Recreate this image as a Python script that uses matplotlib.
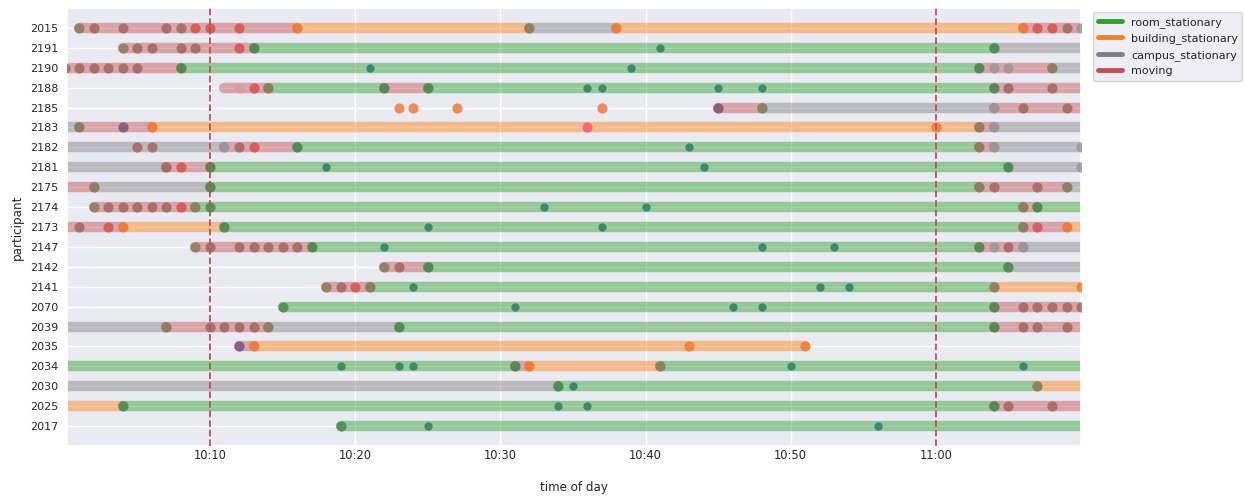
import matplotlib
matplotlib.use("Agg")
import matplotlib.pyplot as plt
from matplotlib.lines import Line2D
from matplotlib.ticker import FixedLocator, FuncFormatter
import seaborn as sns

sns.set_theme(style="darkgrid")
plt.rcParams['font.family'] = ['DejaVu Sans']

# ---------------- data ----------------
participants = ['2015', '2191', '2190', '2188', '2185', '2183', '2182', '2181',
                '2175', '2174', '2173', '2147', '2142', '2141', '2070', '2039',
                '2035', '2034', '2030', '2025', '2017']

states = ['room_stationary', 'building_stationary', 'campus_stationary', 'moving']
state_colors = ['#2ca02c', '#ff7f0e', '#7f7f7f', '#c44e52']

# (participant, start, end, state)  R=room, B=building, C=campus, M=moving
segments = [
    ('2015', '10:01', '10:16', 'M'), ('2015', '10:16', '10:32', 'B'), ('2015', '10:32', '10:38', 'C'),
    ('2015', '10:38', '11:06', 'B'), ('2015', '11:06', '11:10', 'M'),
    ('2191', '10:04', '10:13', 'M'), ('2191', '10:13', '11:04', 'R'), ('2191', '11:04', '11:10', 'C'),
    ('2190', '10:00', '10:08', 'M'), ('2190', '10:08', '11:03', 'R'), ('2190', '11:03', '11:08', 'M'),
    ('2190', '11:08', '11:10', 'C'),
    ('2188', '10:11', '10:14', 'M'), ('2188', '10:14', '10:22', 'R'), ('2188', '10:22', '10:25', 'M'),
    ('2188', '10:25', '11:04', 'R'), ('2188', '11:04', '11:10', 'M'),
    ('2185', '10:45', '10:48', 'M'), ('2185', '10:48', '11:04', 'C'), ('2185', '11:04', '11:10', 'M'),
    ('2183', '10:00', '10:01', 'C'), ('2183', '10:01', '10:06', 'M'), ('2183', '10:06', '11:03', 'B'),
    ('2183', '11:03', '11:04', 'M'), ('2183', '11:04', '11:10', 'C'),
    ('2182', '10:00', '10:11', 'C'), ('2182', '10:11', '10:16', 'M'), ('2182', '10:16', '11:03', 'R'),
    ('2182', '11:03', '11:04', 'M'), ('2182', '11:04', '11:10', 'C'),
    ('2181', '10:00', '10:07', 'C'), ('2181', '10:07', '10:10', 'M'), ('2181', '10:10', '11:05', 'R'),
    ('2181', '11:05', '11:10', 'C'),
    ('2175', '10:00', '10:02', 'M'), ('2175', '10:02', '10:10', 'C'), ('2175', '10:10', '11:03', 'R'),
    ('2175', '11:03', '11:09', 'M'), ('2175', '11:09', '11:10', 'C'),
    ('2174', '10:02', '10:09', 'M'), ('2174', '10:09', '11:06', 'R'), ('2174', '11:06', '11:07', 'M'),
    ('2174', '11:07', '11:10', 'R'),
    ('2173', '10:00', '10:04', 'M'), ('2173', '10:04', '10:11', 'B'), ('2173', '10:11', '11:06', 'R'),
    ('2173', '11:06', '11:09', 'M'), ('2173', '11:09', '11:10', 'B'),
    ('2147', '10:09', '10:17', 'M'), ('2147', '10:17', '11:03', 'R'), ('2147', '11:03', '11:06', 'M'),
    ('2147', '11:06', '11:10', 'C'),
    ('2142', '10:22', '10:25', 'M'), ('2142', '10:25', '11:05', 'R'), ('2142', '11:05', '11:10', 'C'),
    ('2141', '10:18', '10:21', 'M'), ('2141', '10:21', '11:04', 'R'), ('2141', '11:04', '11:10', 'B'),
    ('2070', '10:15', '11:04', 'R'), ('2070', '11:04', '11:10', 'M'),
    ('2039', '10:00', '10:07', 'C'), ('2039', '10:07', '10:14', 'M'), ('2039', '10:14', '10:23', 'C'),
    ('2039', '10:23', '11:04', 'R'), ('2039', '11:04', '11:10', 'M'),
    ('2035', '10:12', '10:13', 'M'), ('2035', '10:13', '10:51', 'B'),
    ('2034', '10:00', '10:31', 'R'), ('2034', '10:31', '10:32', 'M'), ('2034', '10:32', '10:41', 'B'),
    ('2034', '10:41', '11:10', 'R'),
    ('2030', '10:00', '10:34', 'C'), ('2030', '10:34', '11:07', 'R'), ('2030', '11:07', '11:10', 'B'),
    ('2025', '10:00', '10:04', 'B'), ('2025', '10:04', '11:04', 'R'), ('2025', '11:04', '11:10', 'M'),
    ('2017', '10:19', '11:10', 'R'),
]

# (participant, time, kind)
events = [
    ('2015', '10:01', 'o'), ('2015', '10:02', 'b'), ('2015', '10:04', 'b'), ('2015', '10:07', 'b'),
    ('2015', '10:08', 'b'), ('2015', '10:09', 'r'), ('2015', '10:10', 'r'), ('2015', '10:12', 'r'),
    ('2015', '10:16', 'y'), ('2015', '10:32', 'o'), ('2015', '10:38', 'y'), ('2015', '11:06', 'y'),
    ('2015', '11:07', 'r'), ('2015', '11:08', 'r'), ('2015', '11:09', 'b'), ('2015', '11:10', 'k'),
    ('2191', '10:04', 'o'), ('2191', '10:05', 'b'), ('2191', '10:06', 'b'), ('2191', '10:08', 'b'),
    ('2191', '10:09', 'b'), ('2191', '10:12', 'r'), ('2191', '10:13', 'g'), ('2191', '10:41', 't'),
    ('2191', '11:04', 'g'),
    ('2190', '10:00', 'b'), ('2190', '10:01', 'b'), ('2190', '10:02', 'b'), ('2190', '10:03', 'b'),
    ('2190', '10:04', 'b'), ('2190', '10:05', 'b'), ('2190', '10:08', 'g'), ('2190', '10:21', 't'),
    ('2190', '10:39', 't'), ('2190', '11:03', 'g'), ('2190', '11:04', 'k'), ('2190', '11:05', 'k'),
    ('2190', '11:08', 'o'),
    ('2188', '10:12', 'l'), ('2188', '10:13', 'r'), ('2188', '10:14', 'o'), ('2188', '10:22', 'g'),
    ('2188', '10:25', 'g'), ('2188', '10:36', 't'), ('2188', '10:37', 't'), ('2188', '10:45', 't'),
    ('2188', '10:48', 't'), ('2188', '11:04', 'g'), ('2188', '11:05', 'b'), ('2188', '11:08', 'b'),
    ('2185', '10:23', 'y'), ('2185', '10:24', 'y'), ('2185', '10:27', 'y'), ('2185', '10:37', 'y'),
    ('2185', '10:45', 'p'), ('2185', '10:48', 'o'), ('2185', '11:04', 'k'), ('2185', '11:06', 'b'),
    ('2185', '11:09', 'b'),
    ('2183', '10:01', 'o'), ('2183', '10:04', 'p'), ('2183', '10:06', 'y'), ('2183', '10:36', 'm'),
    ('2183', '11:00', 'y'), ('2183', '11:03', 'o'), ('2183', '11:04', 'k'),
    ('2182', '10:05', 'b'), ('2182', '10:06', 'b'), ('2182', '10:11', 'k'), ('2182', '10:12', 'b'),
    ('2182', '10:13', 'r'), ('2182', '10:16', 'g'), ('2182', '10:43', 't'), ('2182', '11:03', 'o'),
    ('2182', '11:04', 'k'), ('2182', '11:10', 'k'),
    ('2181', '10:07', 'b'), ('2181', '10:08', 'r'), ('2181', '10:10', 'g'), ('2181', '10:18', 't'),
    ('2181', '10:44', 't'), ('2181', '11:05', 'g'), ('2181', '11:10', 'k'),
    ('2175', '10:02', 'o'), ('2175', '10:10', 'g'), ('2175', '11:03', 'o'), ('2175', '11:04', 'b'),
    ('2175', '11:07', 'b'), ('2175', '11:09', 'o'),
    ('2174', '10:02', 'o'), ('2174', '10:03', 'b'), ('2174', '10:04', 'b'), ('2174', '10:05', 'b'),
    ('2174', '10:06', 'b'), ('2174', '10:07', 'b'), ('2174', '10:08', 'r'), ('2174', '10:09', 'o'),
    ('2174', '10:10', 'g'), ('2174', '10:33', 't'), ('2174', '10:40', 't'), ('2174', '11:06', 'o'),
    ('2174', '11:07', 'g'),
    ('2173', '10:01', 'b'), ('2173', '10:03', 'r'), ('2173', '10:04', 'y'), ('2173', '10:11', 'g'),
    ('2173', '10:25', 't'), ('2173', '10:37', 't'), ('2173', '11:06', 'o'), ('2173', '11:07', 'r'),
    ('2173', '11:09', 'y'),
    ('2147', '10:09', 'o'), ('2147', '10:10', 'b'), ('2147', '10:12', 'b'), ('2147', '10:13', 'b'),
    ('2147', '10:14', 'b'), ('2147', '10:15', 'b'), ('2147', '10:16', 'b'), ('2147', '10:17', 'g'),
    ('2147', '10:22', 't'), ('2147', '10:48', 't'), ('2147', '10:53', 't'), ('2147', '11:03', 'g'),
    ('2147', '11:04', 'k'), ('2147', '11:05', 'b'), ('2147', '11:06', 'k'),
    ('2142', '10:22', 'o'), ('2142', '10:23', 'b'), ('2142', '10:25', 'g'), ('2142', '11:05', 'g'),
    ('2141', '10:18', 'o'), ('2141', '10:19', 'b'), ('2141', '10:20', 'r'), ('2141', '10:21', 'o'),
    ('2141', '10:24', 't'), ('2141', '10:52', 't'), ('2141', '10:54', 't'), ('2141', '11:04', 'o'),
    ('2141', '11:10', 'y'),
    ('2070', '10:15', 'g'), ('2070', '10:31', 't'), ('2070', '10:46', 't'), ('2070', '10:48', 't'),
    ('2070', '11:04', 'g'), ('2070', '11:06', 'b'), ('2070', '11:07', 'b'), ('2070', '11:08', 'b'),
    ('2070', '11:09', 'b'), ('2070', '11:10', 'b'),
    ('2039', '10:07', 'o'), ('2039', '10:10', 'b'), ('2039', '10:11', 'b'), ('2039', '10:12', 'b'),
    ('2039', '10:13', 'b'), ('2039', '10:14', 'o'), ('2039', '10:23', 'g'), ('2039', '11:04', 'g'),
    ('2039', '11:06', 'b'), ('2039', '11:07', 'b'), ('2039', '11:09', 'b'),
    ('2035', '10:12', 'p'), ('2035', '10:13', 'y'), ('2035', '10:43', 'y'), ('2035', '10:51', 'y'),
    ('2034', '10:19', 't'), ('2034', '10:23', 't'), ('2034', '10:24', 't'), ('2034', '10:31', 'g'),
    ('2034', '10:32', 'y'), ('2034', '10:41', 'o'), ('2034', '10:50', 't'), ('2034', '11:06', 't'),
    ('2030', '10:34', 'g'), ('2030', '10:35', 't'), ('2030', '11:07', 'o'),
    ('2025', '10:04', 'g'), ('2025', '10:34', 't'), ('2025', '10:36', 't'), ('2025', '11:04', 'g'),
    ('2025', '11:05', 'b'), ('2025', '11:08', 'b'),
    ('2017', '10:19', 'g'), ('2017', '10:25', 't'), ('2017', '10:56', 't'),
]

marked_times = ['10:10', '11:00']
tick_times = ['10:10', '10:20', '10:30', '10:40', '10:50', '11:00']

# ---------------- styling ----------------
state_key = {'R': 0, 'B': 1, 'C': 2, 'M': 3}
dot_colors = {'o': '#877a5a', 'b': '#a0645a', 'r': '#d75046', 'g': '#46874b',
              't': '#287d66', 'y': '#f07832', 'k': '#9a9597', 'p': '#785078',
              'm': '#f05a6e', 'l': '#d99a9e'}


def to_min(s):
    h, m = s.split(':')
    return (int(h) - 10) * 60 + int(m)


row = {p: i for i, p in enumerate(participants)}

fig = plt.figure(figsize=(12.45, 4.96), dpi=100)
ax = fig.add_axes([0.0538, 0.1008, 0.8145, 0.8831])

for p, s, e, st in segments:
    y = row[p]
    ax.plot([to_min(s), to_min(e)], [y, y], color=state_colors[state_key[st]],
            alpha=0.45, lw=7.5, solid_capstyle='round', zorder=2)

for p, t, k in events:
    size = 36 if k == 't' else 54
    ax.scatter(to_min(t), row[p], s=size, color=dot_colors[k], alpha=0.82,
               linewidths=0, zorder=3)

for t in marked_times:
    ax.axvline(to_min(t), color='#c44e52', ls='--', lw=1.3, zorder=4)

ax.set_xlim(0.15, 70.0)
ax.set_ylim(21, -1)
ax.set_yticks(range(len(participants)))
ax.set_yticklabels(participants, fontsize=8)
ax.xaxis.set_major_locator(FixedLocator([to_min(t) for t in tick_times]))
ax.xaxis.set_major_formatter(FuncFormatter(lambda v, pos: '%d:%02d' % (10 + int(v) // 60, int(v) % 60)))
ax.tick_params(axis='x', labelsize=8.3, length=0, pad=2)
ax.tick_params(axis='y', length=0, pad=6)
ax.set_xlabel('time of day', fontsize=8.6)
ax.set_ylabel('participant', fontsize=8.6)
ax.xaxis.set_label_coords(0.5, -0.08)
ax.yaxis.set_label_coords(-0.043, 0.5)

handles = [Line2D([0], [0], color=c, lw=3.5) for c in state_colors]
ax.legend(handles, states, loc='upper left', bbox_to_anchor=(1.012, 0.99),
          borderaxespad=0, fontsize=8, handlelength=2.2)

fig.savefig('out.png', dpi=100)
